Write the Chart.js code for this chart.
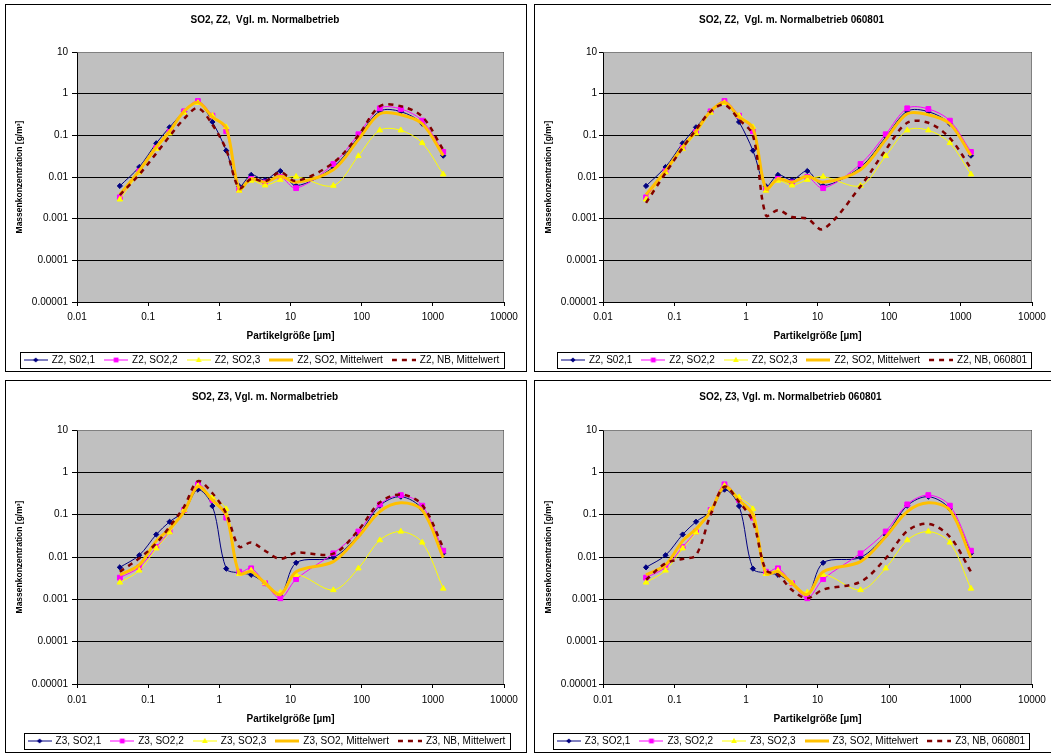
<!DOCTYPE html>
<html>
<head>
<meta charset="utf-8">
<script src="https://cdn.jsdelivr.net/npm/chart.js@4.4.0/dist/chart.umd.min.js"></script>
<style>
  html, body { margin: 0; padding: 0; background: #fff; }
  body { width: 1051px; height: 755px; position: relative; overflow: hidden; }
  .panel { position: absolute; box-sizing: border-box; border: 1px solid #000; overflow: hidden; background: #fff; }
  .panel canvas { position: absolute; left: 0; top: 0; }
</style>
</head>
<body>
<div class="panel" style="left:5px;top:4px;width:522px;height:368px"><canvas id="c1" width="520" height="372"></canvas></div>
<div class="panel" style="left:534px;top:4px;width:522px;height:368px"><canvas id="c2" width="520" height="372"></canvas></div>
<div class="panel" style="left:5px;top:380px;width:522px;height:373px"><canvas id="c3" width="520" height="377"></canvas></div>
<div class="panel" style="left:534px;top:380px;width:522px;height:373px"><canvas id="c4" width="520" height="377"></canvas></div>
<script>
const sizes = [0.04, 0.075, 0.13, 0.2, 0.32, 0.5, 0.8, 1.25, 1.9, 2.8, 4.4, 7.2, 12, 40, 90, 180, 355, 710, 1400];

const xTicks = [0.01, 0.1, 1, 10, 100, 1000, 10000];
const xTickLabels = ["0.01", "0.1", "1", "10", "100", "1000", "10000"];
const yTicks = [0.00001, 0.0001, 0.001, 0.01, 0.1, 1, 10];
const yTickLabels = ["0.00001", "0.0001", "0.001", "0.01", "0.1", "1", "10"];

// Z2
const z2So2_1 = [0.0061, 0.0174, 0.0645, 0.156, 0.37, 0.63, 0.209, 0.043, 0.006, 0.0112, 0.0085, 0.0139, 0.0062, 0.0174, 0.091, 0.38, 0.37, 0.19, 0.0325];
const z2So2_2 = [0.00325, 0.0137, 0.0497, 0.12, 0.377, 0.667, 0.296, 0.125, 0.005, 0.009, 0.0074, 0.01, 0.0054, 0.0205, 0.106, 0.445, 0.43, 0.225, 0.04];
const z2So2_3 = [0.0029, 0.0129, 0.047, 0.112, 0.35, 0.6, 0.296, 0.158, 0.0047, 0.0082, 0.0063, 0.0086, 0.0102, 0.0062, 0.032, 0.132, 0.132, 0.0655, 0.0116];
const z2Mean = [0.0038, 0.0142, 0.0525, 0.125, 0.377, 0.62, 0.275, 0.15, 0.0052, 0.009, 0.0075, 0.0104, 0.0075, 0.015, 0.079, 0.33, 0.313, 0.19, 0.0325];
const z2NbMean = [0.0037, 0.0115, 0.037, 0.095, 0.25, 0.45, 0.18, 0.045, 0.0054, 0.009, 0.0079, 0.013, 0.008, 0.022, 0.1, 0.5, 0.5, 0.28, 0.045];
const z2Nb060801 = [0.0024, 0.0125, 0.05, 0.137, 0.377, 0.54, 0.24, 0.1, 0.0012, 0.0016, 0.0011, 0.001, 0.00056, 0.006, 0.045, 0.2, 0.2, 0.086, 0.016];

// Z3
const z3So2_1 = [0.0057, 0.011, 0.034, 0.068, 0.12, 0.39, 0.16, 0.0053, 0.0042, 0.0038, 0.0024, 0.00126, 0.0073, 0.0098, 0.033, 0.163, 0.266, 0.136, 0.0122];
const z3So2_2 = [0.00325, 0.0057, 0.0172, 0.04, 0.129, 0.52, 0.222, 0.085, 0.0045, 0.0054, 0.0024, 0.00106, 0.003, 0.0122, 0.04, 0.175, 0.29, 0.163, 0.0141];
const z3So2_3 = [0.0025, 0.0048, 0.016, 0.038, 0.129, 0.48, 0.257, 0.136, 0.004, 0.0048, 0.0024, 0.00146, 0.0038, 0.00166, 0.0054, 0.025, 0.04, 0.022, 0.0018];
const z3Mean = [0.0038, 0.0065, 0.024, 0.046, 0.118, 0.46, 0.22, 0.098, 0.0041, 0.0045, 0.0024, 0.0013, 0.0045, 0.0078, 0.03, 0.118, 0.19, 0.128, 0.0097];
const z3NbMean = [0.0045, 0.0093, 0.021, 0.052, 0.155, 0.62, 0.32, 0.107, 0.0175, 0.022, 0.014, 0.009, 0.0126, 0.012, 0.043, 0.195, 0.3, 0.17, 0.0166];
const z3Nb060801 = [0.0029, 0.0071, 0.009, 0.011, 0.1, 0.46, 0.2, 0.068, 0.0049, 0.0038, 0.00166, 0.00106, 0.0017, 0.0026, 0.0093, 0.041, 0.061, 0.03, 0.0045];

const FONT = "'Liberation Sans', Arial, sans-serif";

const styles = [
  { borderColor: "#000080", backgroundColor: "#000080", borderWidth: 1, pointStyle: "rectRot", pointRadius: 2.6 },
  { borderColor: "#FF00FF", backgroundColor: "#FF00FF", borderWidth: 1, pointStyle: "rect", pointRadius: 3.4 },
  { borderColor: "#FFFF00", backgroundColor: "#FFFF00", borderWidth: 1, pointStyle: "triangle", pointRadius: 3.2 },
  { borderColor: "#FFC000", backgroundColor: "#FFC000", borderWidth: 3, pointStyle: false, pointRadius: 0 },
  { borderColor: "#800000", backgroundColor: "#800000", borderWidth: 2.5, borderDash: [5, 5], pointStyle: false, pointRadius: 0 }
];

// small line+marker sample for the legend
function legendIcon(st) {
  const c = document.createElement("canvas");
  c.width = 24; c.height = 10;
  const g = c.getContext("2d");
  g.strokeStyle = st.borderColor;
  g.lineWidth = st.borderWidth;
  g.setLineDash(st.borderDash || []);
  g.beginPath(); g.moveTo(0, 5); g.lineTo(24, 5); g.stroke();
  g.setLineDash([]);
  g.fillStyle = st.backgroundColor;
  const r = st.pointRadius;
  if (st.pointStyle === "rectRot") {
    g.beginPath(); g.moveTo(12, 5 - r); g.lineTo(12 + r, 5); g.lineTo(12, 5 + r); g.lineTo(12 - r, 5); g.closePath(); g.fill();
  } else if (st.pointStyle === "rect") {
    const s = r * Math.SQRT1_2;
    g.fillRect(12 - s, 5 - s, 2 * s, 2 * s);
  } else if (st.pointStyle === "triangle") {
    g.beginPath(); g.moveTo(12, 5 - r); g.lineTo(12 + r * 0.9, 5 + r * 0.6); g.lineTo(12 - r * 0.9, 5 + r * 0.6); g.closePath(); g.fill();
  }
  return c;
}

const framePlugin = {
  id: "frame",
  afterLayout(chart, args, opts) {
    // nudge title and legend sideways like the Excel layout
    if (chart.titleBlock) { chart.titleBlock.left += opts.titleDx; chart.titleBlock.right += opts.titleDx; }
    if (chart.legend) { chart.legend.left += opts.legendDx; chart.legend.right += opts.legendDx; }
  },
  beforeDraw(chart) {
    const a = chart.chartArea, ctx = chart.ctx;
    ctx.save();
    ctx.fillStyle = "#C0C0C0";
    ctx.fillRect(a.left, a.top, a.right - a.left, a.bottom - a.top);
    ctx.restore();
  },
  afterDraw(chart) {
    const a = chart.chartArea, ctx = chart.ctx;
    ctx.save();
    ctx.strokeStyle = "#808080";
    ctx.lineWidth = 1;
    ctx.beginPath();
    ctx.moveTo(Math.round(a.left) + 0.5, Math.round(a.top) + 0.5);
    ctx.lineTo(Math.round(a.right) - 0.5, Math.round(a.top) + 0.5);
    ctx.lineTo(Math.round(a.right) - 0.5, Math.round(a.bottom));
    ctx.stroke();
    // legend box
    const hb = chart.legend.legendHitBoxes;
    const l = Math.min(...hb.map(h => h.left));
    const r = Math.max(...hb.map(h => h.left + h.width));
    const t = Math.min(...hb.map(h => h.top));
    ctx.strokeStyle = "#000";
    ctx.strokeRect(Math.round(l - 5) + 0.5, Math.round(t - 3) + 0.5, Math.round(r - l + 9), 16);
    ctx.restore();
  }
};

function makeChart(id, title, labels, series, g) {
  const datasets = series.map((vals, i) => Object.assign({
    label: labels[i],
    data: sizes.map((x, k) => ({ x: x, y: vals[k] })),
    tension: 0.33,
    pointBorderWidth: 1,
    fill: false,
    order: 5 - i
  }, styles[i]));

  new Chart(document.getElementById(id), {
    type: "line",
    data: { datasets },
    options: {
      responsive: false,
      animation: false,
      layout: { padding: { left: 0, right: g.padRight, top: 0, bottom: 2 } },
      plugins: {
        frame: { titleDx: g.titleDx, legendDx: g.legendDx },
        tooltip: { enabled: false },
        title: {
          display: true, text: title, color: "#000",
          font: { family: FONT, size: 10, weight: "bold" },
          padding: { top: g.titleTop, bottom: g.titleBottom }
        },
        legend: {
          position: "bottom",
          labels: {
            color: "#000",
            font: { family: FONT, size: 10 },
            usePointStyle: true,
            pointStyleWidth: 22,
            padding: 10,
            generateLabels: (chart) => chart.data.datasets.map((ds, i) => ({
              text: ds.label,
              pointStyle: legendIcon(styles[i]),
              fillStyle: ds.borderColor,
              strokeStyle: ds.borderColor,
              lineWidth: 0,
              hidden: false,
              datasetIndex: i,
              fontColor: "#000"
            }))
          }
        }
      },
      scales: {
        x: {
          type: "logarithmic",
          min: 0.01, max: 10000,
          afterBuildTicks: (s) => { s.ticks = xTicks.map(v => ({ value: v })); },
          afterFit: (s) => { s.height = g.xH; },
          ticks: {
            color: "#000", font: { family: FONT, size: 10 },
            autoSkip: false, maxRotation: 0, padding: g.xPad,
            callback: (v, i) => xTickLabels[i]
          },
          grid: { drawOnChartArea: false, drawTicks: true, tickLength: 4, color: "#000" },
          border: { color: "#000", width: 1 },
          title: {
            display: true, text: "Partikelgröße [µm]", color: "#000",
            font: { family: FONT, size: 10, weight: "bold" },
            padding: { top: 0, bottom: g.xTitlePB }
          }
        },
        y: {
          type: "logarithmic",
          min: 0.00001, max: 10,
          afterBuildTicks: (s) => { s.ticks = yTicks.map(v => ({ value: v })); },
          afterFit: (s) => { s.width = g.left; },
          ticks: {
            color: "#000", font: { family: FONT, size: 10 },
            padding: g.yPad,
            callback: (v, i) => yTickLabels[i]
          },
          grid: { color: "#000", tickLength: g.yTick, lineWidth: 1 },
          border: { color: "#000", width: 1 },
          title: {
            display: true, text: "Massenkonzentration [g/m³]", color: "#000",
            font: { family: FONT, size: 8.5, weight: "bold" },
            padding: { top: 9, bottom: 0 }
          }
        }
      }
    },
    plugins: [framePlugin]
  });
}

const topGeomL = { left: 71, padRight: 22, titleTop: 9, titleBottom: 26, xH: 43, xTitlePB: 3, xPad: 5, yTick: 5, yPad: 4, titleDx: 10, legendDx: 7 };
const topGeomR = { left: 68, padRight: 23, titleTop: 9, titleBottom: 26, xH: 43, xTitlePB: 3, xPad: 5, yTick: 4, yPad: 2, titleDx: 8, legendDx: 11 };
const botGeomL = { left: 71, padRight: 22, titleTop: 10, titleBottom: 27, xH: 42, xTitlePB: 1, xPad: 6, yTick: 5, yPad: 4, titleDx: 10, legendDx: 12 };
const botGeomR = { left: 68, padRight: 23, titleTop: 10, titleBottom: 27, xH: 42, xTitlePB: 1, xPad: 6, yTick: 4, yPad: 2, titleDx: 7, legendDx: 8 };

makeChart("c1", "SO2, Z2,  Vgl. m. Normalbetrieb",
  ["Z2, S02,1", "Z2, SO2,2", "Z2, SO2,3", "Z2, SO2, Mittelwert", "Z2, NB, Mittelwert"],
  [z2So2_1, z2So2_2, z2So2_3, z2Mean, z2NbMean], topGeomL);

makeChart("c2", "SO2, Z2,  Vgl. m. Normalbetrieb 060801",
  ["Z2, S02,1", "Z2, SO2,2", "Z2, SO2,3", "Z2, SO2, Mittelwert", "Z2, NB, 060801"],
  [z2So2_1, z2So2_2, z2So2_3, z2Mean, z2Nb060801], topGeomR);

makeChart("c3", "SO2, Z3, Vgl. m. Normalbetrieb",
  ["Z3, SO2,1", "Z3, SO2,2", "Z3, SO2,3", "Z3, SO2, Mittelwert", "Z3, NB, Mittelwert"],
  [z3So2_1, z3So2_2, z3So2_3, z3Mean, z3NbMean], botGeomL);

makeChart("c4", "SO2, Z3, Vgl. m. Normalbetrieb 060801",
  ["Z3, SO2,1", "Z3, SO2,2", "Z3, SO2,3", "Z3, SO2, Mittelwert", "Z3, NB, 060801"],
  [z3So2_1, z3So2_2, z3So2_3, z3Mean, z3Nb060801], botGeomR);
</script>
</body>
</html>
